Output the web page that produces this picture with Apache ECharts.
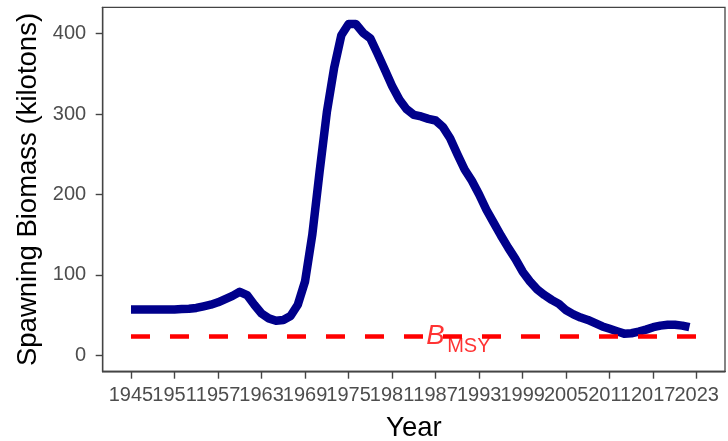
<!DOCTYPE html>
<html>
<head>
<meta charset="utf-8">
<script src="https://cdn.jsdelivr.net/npm/echarts@6/dist/echarts.min.js"></script>
<style>
  html, body { margin: 0; padding: 0; background: #fff; }
  #chart { width: 728px; height: 441px; }
</style>
</head>
<body>
<div id="chart"></div>
<script>
// Spawning biomass time series (kilotons)
const years = [
  1945, 1946, 1947, 1948, 1949, 1950, 1951, 1952, 1953, 1954,
  1955, 1956, 1957, 1958, 1959, 1960, 1961, 1962, 1963, 1964,
  1965, 1966, 1967, 1968, 1969, 1970, 1971, 1972, 1973, 1974,
  1975, 1976, 1977, 1978, 1979, 1980, 1981, 1982, 1983, 1984,
  1985, 1986, 1987, 1988, 1989, 1990, 1991, 1992, 1993, 1994,
  1995, 1996, 1997, 1998, 1999, 2000, 2001, 2002, 2003, 2004,
  2005, 2006, 2007, 2008, 2009, 2010, 2011, 2012, 2013, 2014,
  2015, 2016, 2017, 2018, 2019, 2020, 2021, 2022
];
const biomass = [
  57, 57, 57, 57, 57, 57, 57, 57.5, 58, 59,
  61, 63, 66, 70, 74, 79, 75, 63, 52, 46,
  43, 44, 49, 63, 92, 150, 228, 302, 357, 398,
  412, 412, 401, 394, 375, 355, 335, 318, 306, 299,
  297, 294, 292, 284, 270, 250, 231, 217, 200, 181,
  165, 149, 134, 120, 104, 92, 82, 75, 69, 64,
  56, 51, 47, 44, 40, 36, 33, 30, 27, 27.5,
  29.5, 32, 35, 37, 38, 38, 37, 35
];

// Reference point B_MSY and the span it is drawn over
const bmsy = 23.5;
const bmsySpan = [1945, 2023];
const bmsyLabelYear = 1990;

// Axis breaks (the year breaks are split over two stacked axes so
// neighbouring labels may touch without being dropped)
const xTicksA = [1945, 1957, 1969, 1981, 1993, 2005, 2017];
const xTicksB = [1951, 1963, 1975, 1987, 1999, 2011, 2023];
const yTicks = [0, 100, 200, 300, 400];

const font = '"Liberation Sans", Arial, Helvetica, sans-serif';
const tickColor = '#444444';
const labelColor = '#4d4d4d';
const red = '#ff0000';
const xMin = 1941.1;
const xMax = 2026.9;

function yearAxis(ticks, withName) {
  return {
    type: 'value',
    position: 'bottom',
    offset: 0,
    min: xMin,
    max: xMax,
    name: withName ? 'Year' : '',
    nameLocation: 'middle',
    nameGap: 43,
    nameTextStyle: { fontFamily: font, fontSize: 27.5, color: '#000000' },
    axisLine: { show: true, onZero: false, lineStyle: { color: tickColor, width: 1.3 } },
    splitLine: { show: false },
    axisTick: {
      show: true,
      length: 7,
      customValues: ticks,
      lineStyle: { color: tickColor, width: 1.4 }
    },
    axisLabel: {
      show: true,
      customValues: ticks,
      showMinLabel: true,
      showMaxLabel: true,
      hideOverlap: false,
      margin: 14,
      fontFamily: font,
      fontSize: 20,
      color: labelColor,
      formatter: v => String(v)
    }
  };
}

const chart = echarts.init(document.getElementById('chart'), null, { renderer: 'canvas' });

chart.setOption({
  animation: false,
  backgroundColor: '#ffffff',
  grid: {
    left: 102.7,
    top: 7.3,
    right: 3,
    bottom: 69.3,
    outerBoundsMode: 'none',
    containLabel: false,
    show: true,
    borderColor: tickColor,
    borderWidth: 1.3,
    backgroundColor: '#ffffff'
  },
  xAxis: [yearAxis(xTicksA, true), yearAxis(xTicksB, false)],
  yAxis: {
    type: 'value',
    position: 'left',
    min: -20.3,
    max: 432.7,
    name: 'Spawning Biomass (kilotons)',
    nameLocation: 'middle',
    nameGap: 58,
    nameTextStyle: { fontFamily: font, fontSize: 27.5, color: '#000000' },
    axisLine: { show: true, onZero: false, lineStyle: { color: tickColor, width: 1.3 } },
    splitLine: { show: false },
    axisTick: {
      show: true,
      length: 7,
      customValues: yTicks,
      lineStyle: { color: tickColor, width: 1.4 }
    },
    axisLabel: {
      customValues: yTicks,
      showMinLabel: true,
      showMaxLabel: true,
      margin: 16.5,
      fontFamily: font,
      fontSize: 20,
      color: labelColor,
      formatter: v => String(v)
    }
  },
  series: [
    {
      name: 'Spawning biomass',
      type: 'line',
      xAxisIndex: 0,
      data: years.map((y, i) => [y, biomass[i]]),
      showSymbol: false,
      symbol: 'none',
      lineStyle: { color: '#00008b', width: 8.5, cap: 'butt', join: 'round' },
      z: 2
    },
    {
      name: 'BMSY',
      type: 'line',
      xAxisIndex: 0,
      data: bmsySpan.map(y => [y, bmsy]),
      showSymbol: false,
      symbol: 'none',
      lineStyle: { color: red, width: 4.5, type: [19, 20], cap: 'butt' },
      z: 3
    },
    {
      name: 'BMSY label',
      type: 'scatter',
      xAxisIndex: 0,
      symbolSize: 0,
      z: 4,
      label: { show: true, position: 'inside', fontFamily: font, color: red },
      data: [
        {
          value: [bmsyLabelYear, bmsy],
          label: { formatter: 'B', fontSize: 27.5, fontStyle: 'italic', offset: [-22, 0] }
        },
        {
          value: [bmsyLabelYear, bmsy],
          label: { formatter: 'MSY', fontSize: 20, offset: [11.5, 10] }
        }
      ]
    }
  ]
});
</script>
</body>
</html>
